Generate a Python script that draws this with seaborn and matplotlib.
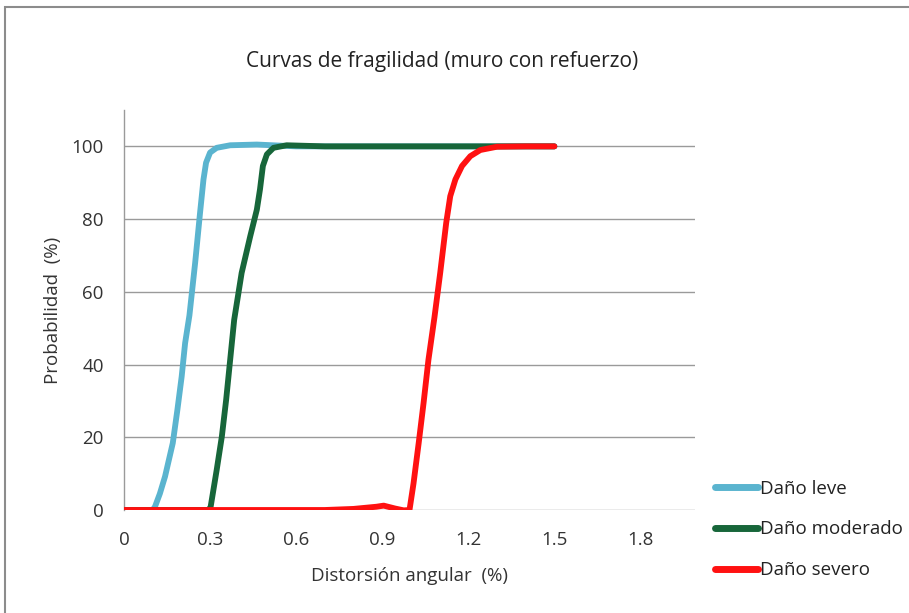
import matplotlib
matplotlib.use("Agg")
import matplotlib.pyplot as plt
from matplotlib.patches import Rectangle
import pandas as pd
import seaborn as sns

# Fragility curves: probability of damage (%) vs angular distortion (%)
leve_x = [0.100, 0.108, 0.125, 0.143, 0.170, 0.186, 0.201, 0.213, 0.228, 0.248,
          0.265, 0.277, 0.286, 0.300, 0.323, 0.370, 0.463, 0.600, 1.500]
leve_y = [0.0, 0.9, 4.5, 9.2, 18.4, 27.5, 36.7, 45.9, 53.5, 68.0,
          81.7, 90.9, 95.5, 98.3, 99.6, 100.3, 100.5, 100.0, 100.0]

moderado_x = [0.000, 0.295, 0.302, 0.323, 0.341, 0.356, 0.370, 0.384, 0.410, 0.440,
              0.463, 0.474, 0.484, 0.498, 0.521, 0.567, 0.700, 1.500]
moderado_y = [0.0, 0.0, 0.9, 11.0, 20.2, 30.3, 41.3, 52.3, 65.2, 75.3,
              82.6, 88.2, 94.6, 97.8, 99.6, 100.3, 100.0, 100.0]

severo_x = [0.000, 0.700, 0.800, 0.880, 0.905, 0.945, 0.975, 0.995, 1.009, 1.027,
            1.044, 1.061, 1.082, 1.102, 1.123, 1.137, 1.155, 1.178, 1.207, 1.242,
            1.300, 1.400, 1.500]
severo_y = [0.0, 0.0, 0.3, 0.9, 1.2, 0.4, -0.1, 0.0, 7.3, 18.4,
            29.4, 41.3, 53.0, 65.2, 79.0, 86.3, 90.9, 94.6, 97.3, 99.0,
            99.9, 100.0, 100.0]

series_names = ["Daño leve", "Daño moderado", "Daño severo"]
series_colors = ["#5AB4CF", "#17663A", "#FF1111"]

x_ticks = [0, 0.3, 0.6, 0.9, 1.2, 1.5, 1.8]
x_tick_labels = ["0", "0.3", "0.6", "0.9", "1.2", "1.5", "1.8"]
y_ticks = [0, 20, 40, 60, 80, 100]

frames = []
for name, xs, ys in zip(series_names,
                        [leve_x, moderado_x, severo_x],
                        [leve_y, moderado_y, severo_y]):
    frames.append(pd.DataFrame({"x": xs, "y": ys, "serie": name}))
df = pd.concat(frames, ignore_index=True)

sns.set_theme(style="white")
plt.rcParams["font.family"] = ["Open Sans", "DejaVu Sans"]

fig = plt.figure(figsize=(9.09, 6.13), dpi=100)
ax = fig.add_axes([124 / 909, 103 / 613, (695 - 124) / 909, 400 / 613])

sns.lineplot(data=df, x="x", y="y", hue="serie", hue_order=series_names,
             palette=series_colors, estimator=None, sort=False,
             linewidth=4.2, ax=ax, legend=True, zorder=3)
for line in ax.lines:
    line.set_solid_capstyle("round")
    line.set_solid_joinstyle("round")

ax.set_xlim(0, 1.99)
ax.set_ylim(0, 110)
ax.set_xticks(x_ticks)
ax.set_xticklabels(x_tick_labels)
ax.set_yticks(y_ticks)
ax.tick_params(axis="both", length=0, labelsize=13.5, colors="#333333")
ax.tick_params(axis="y", pad=14.5)
ax.tick_params(axis="x", pad=15)

ax.grid(axis="y", color="#9a9a9a", linewidth=1.0, zorder=0)
ax.grid(axis="x", visible=False)
for side in ["top", "right", "bottom"]:
    ax.spines[side].set_visible(False)
ax.spines["left"].set_color("#9a9a9a")
ax.spines["left"].set_linewidth(1.0)
ax.set_facecolor("none")

ax.set_xlabel("Distorsión angular  (%)", fontsize=13.5, color="#333333", labelpad=13)
ax.set_ylabel("Probabilidad  (%)", fontsize=13.5, color="#333333", labelpad=7)
fig.text(442 / 909, 1 - 61 / 613, "Curvas de fragilidad (muro con refuerzo)",
         ha="center", va="center", fontsize=15, color="#222222")

handles, labels = ax.get_legend_handles_labels()
leg = ax.legend(handles, labels, loc="upper left",
                bbox_to_anchor=(707 / 909, 1 - 472 / 613),
                bbox_transform=fig.transFigure, frameon=False,
                fontsize=13.5, handlelength=2.3, handletextpad=0.12,
                labelspacing=1.22, borderaxespad=0)
for lh in leg.get_lines():
    lh.set_linewidth(5)
    lh.set_solid_capstyle("round")
for t in leg.get_texts():
    t.set_color("#222222")

# outer frame of the chart area
fig.patches.append(Rectangle((5 / 909, -0.05), 1.1, 1 - 7 / 613 + 0.05,
                             transform=fig.transFigure, fill=False,
                             edgecolor="#8c8c8c", linewidth=1.5))

fig.savefig("out.png", dpi=100)
